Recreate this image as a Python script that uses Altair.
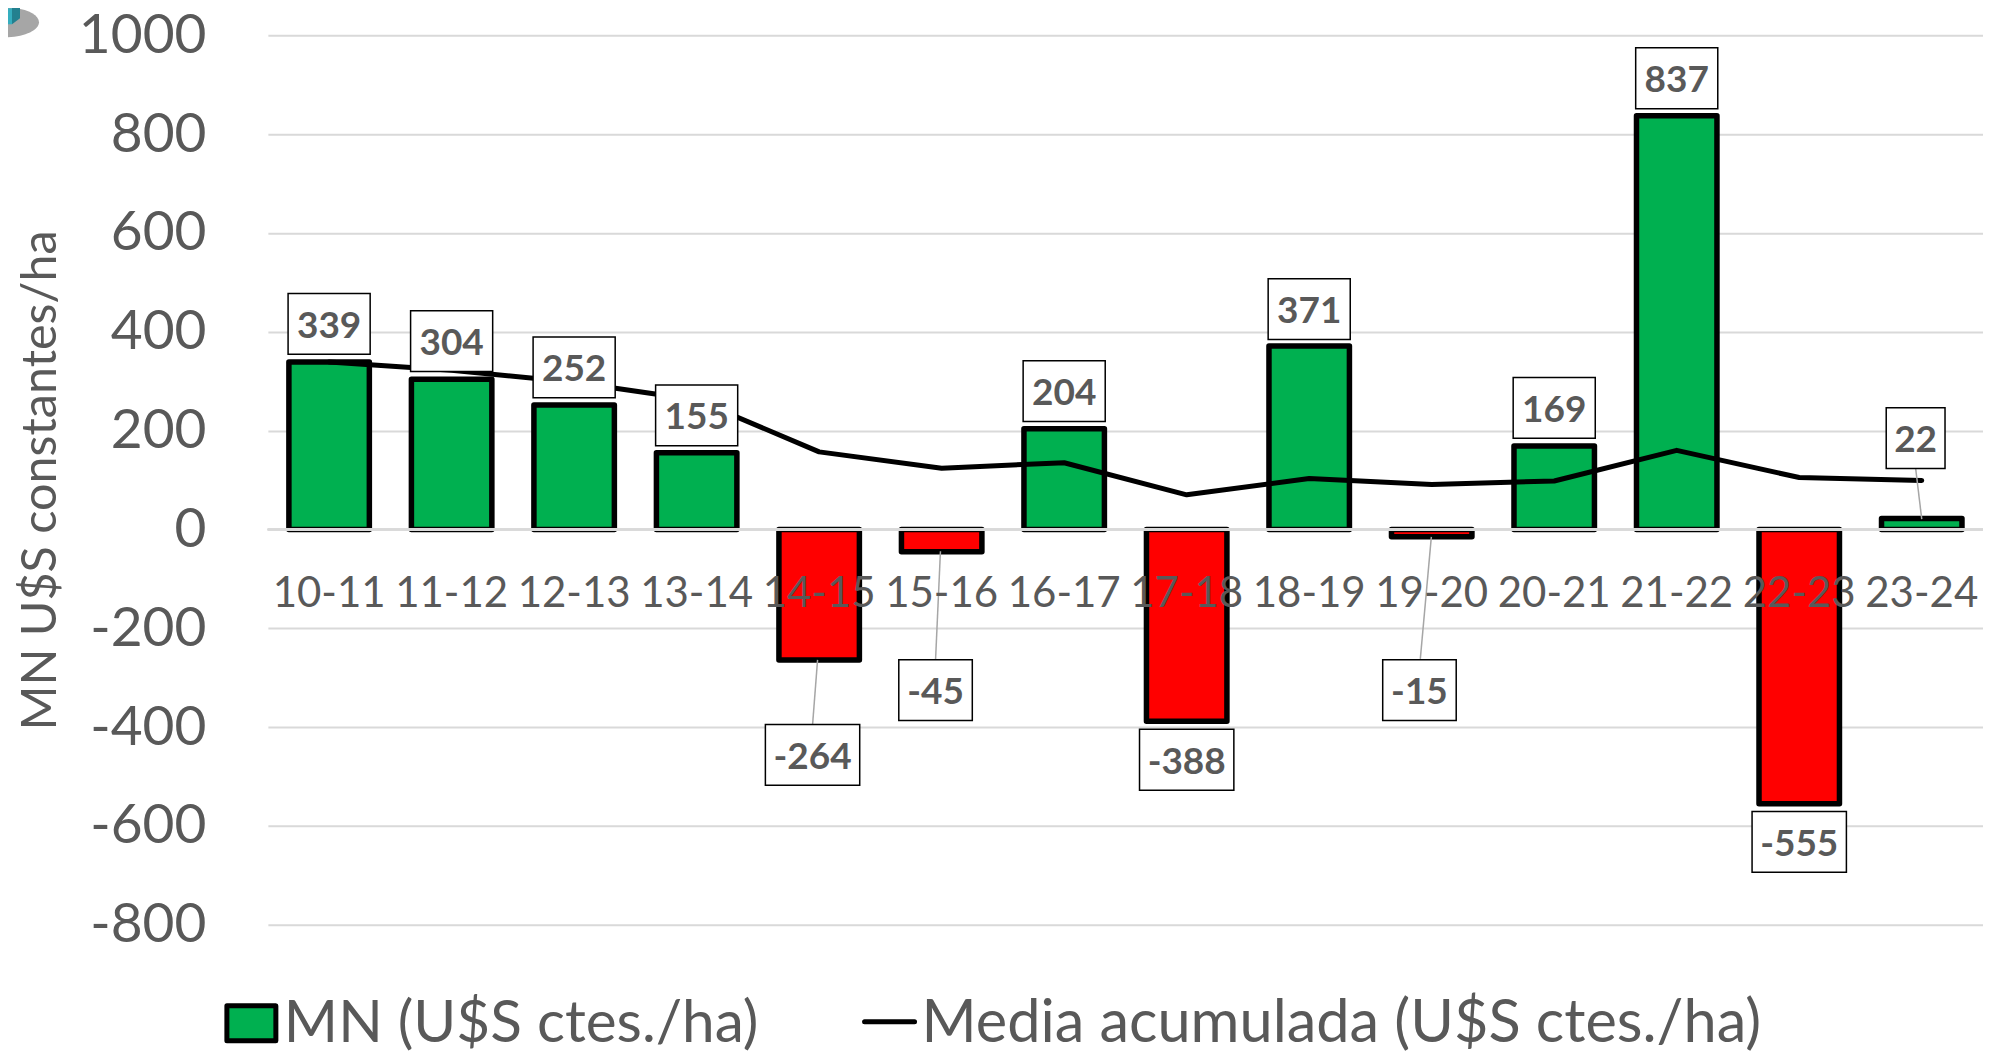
import altair as alt
import pandas as pd

categories = ["10-11","11-12","12-13","13-14","14-15","15-16","16-17","17-18","18-19","19-20","20-21","21-22","22-23","23-24"]
mn_values = [339,304,252,155,-264,-45,204,-388,371,-15,169,837,-555,22]
media_values = [339,322,298,262,157,124,135,70,103,91,98,160,105,99]
y_ticks = [-800,-600,-400,-200,0,200,400,600,800,1000]
legend_labels = ["MN (U$S ctes./ha)", "Media acumulada (U$S ctes./ha)"]
y_title = "MN U$S constantes/ha"

# data-label box layout, in category / value units
box_x = [0,1,2,3,3.946,4.95,6,7,8,8.9,10,11,12,12.95]
box_y = [416,381,328,231,-456,-325,280,-466,446,-325,246,913,-632,185]
box_w = [.67,.67,.67,.67,.77,.6,.67,.77,.67,.6,.67,.67,.77,.48]
box_h = 123
leader_x = [3.987,4.99,8.997,13.0]
leader_x2 = [3.946,4.95,8.907,12.95]
leader_y = [-264,-44,-15,21]
leader_y2 = [-396,-264,-262,124]

FONT = "Lato"
GREY = "#595959"
GREEN = "#00b050"
RED = "#ff0000"

df = pd.DataFrame({"season": categories, "mn": mn_values, "media": media_values,
                   "fill": [GREEN if v >= 0 else RED for v in mn_values]})
boxes = pd.DataFrame({"label": [str(v) for v in mn_values], "x": box_x, "y": box_y, "w": box_w})
boxes["x0"] = boxes.x - boxes.w / 2
boxes["x1"] = boxes.x + boxes.w / 2
boxes["y0"] = boxes.y - box_h / 2
boxes["y1"] = boxes.y + box_h / 2
leaders = pd.DataFrame({"x": leader_x, "x2": leader_x2, "y": leader_y, "y2": leader_y2})
one = pd.DataFrame({"k": [0]})

yscale = alt.Scale(domain=[-800, 1000], nice=False, zero=False)
xscale = alt.Scale(domain=categories, paddingInner=0, paddingOuter=0)
qscale = alt.Scale(domain=[-0.5, 13.5], nice=False, zero=False)
yaxis = alt.Axis(values=y_ticks, labelExpr="toString(datum.value)",
                 labelFontSize=55, labelFont=FONT, labelColor=GREY, labelPadding=62,
                 ticks=False, domain=False, grid=True, gridColor="#d9d9d9", gridWidth=2,
                 titleFont=FONT, titleFontSize=48.5, titleFontWeight="normal",
                 titleColor=GREY, titleX=-202)


def Y(field):
    return alt.Y(field, scale=yscale, title=y_title, axis=yaxis)


x_plain = alt.X("season:N", scale=xscale, axis=None, sort=categories)
x_axis = alt.X("season:N", scale=xscale, sort=categories, title=None,
               axis=alt.Axis(labelAngle=0, labelFontSize=42, labelFont=FONT, labelColor=GREY,
                             labelBaseline="middle", labelPadding=-331, labelOverlap=False,
                             ticks=False, domain=False, grid=False, zindex=1))

bars = alt.Chart(df).mark_bar(width=80.5, stroke="black", strokeWidth=5.5, strokeJoin="round").encode(
    x=x_axis, y=Y("mn:Q"), fill=alt.Fill("fill:N", scale=None))
zero = alt.Chart(df).mark_rule(color="#d9d9d9", strokeWidth=2).encode(y=alt.datum(0, scale=yscale))
line = alt.Chart(df).mark_line(color="black", strokeWidth=5, strokeCap="round", strokeJoin="round").encode(
    x=x_plain, y=Y("media:Q"))
lead = alt.Chart(leaders).mark_rule(color="#a6a6a6", strokeWidth=1.5).encode(
    x=alt.X("x:Q", scale=qscale, axis=None), x2="x2:Q", y=Y("y:Q"), y2="y2:Q")
rects = alt.Chart(boxes).mark_rect(fill="white", stroke="black", strokeWidth=1.5).encode(
    x=alt.X("x0:Q", scale=qscale, axis=None), x2="x1:Q", y=Y("y0:Q"), y2="y1:Q")
texts = alt.Chart(boxes).mark_text(font=FONT, fontSize=37, fontWeight="bold", color=GREY,
                                   baseline="middle", dy=3).encode(
    x=alt.X("x:Q", scale=qscale, axis=None), y=Y("y:Q"), text="label:N")

# legend, built by hand so that the swatch keeps its wide shape
leg_rect = alt.Chart(one).mark_rect(fill=GREEN, stroke="black", strokeWidth=5, strokeJoin="round").encode(
    x=alt.value(-41), x2=alt.value(8), y=alt.value(971), y2=alt.value(1006))
leg_line = alt.Chart(one).mark_rule(color="black", strokeWidth=5, strokeCap="round").encode(
    x=alt.value(597), x2=alt.value(647), y=alt.value(987))
leg_t1 = alt.Chart(pd.DataFrame({"t": [legend_labels[0]]})).mark_text(
    font=FONT, fontSize=58.5, color=GREY, align="left", baseline="middle").encode(
    x=alt.value(16), y=alt.value(989), text="t:N")
leg_t2 = alt.Chart(pd.DataFrame({"t": [legend_labels[1]]})).mark_text(
    font=FONT, fontSize=59.5, color=GREY, align="left", baseline="middle").encode(
    x=alt.value(654), y=alt.value(989), text="t:N")

# stray icon fragment in the top-left corner
shadow = alt.Chart(one).mark_point(filled=True, fill="#a6a6a6", stroke=None, opacity=1, size=4624,
                                   shape="M-1,0A1,.44 0 1,0 1,0A1,.44 0 1,0 -1,0Z").encode(
    x=alt.value(-263), y=alt.value(-13))
cube_side = alt.Chart(one).mark_point(filled=True, fill="#23808f", stroke=None, opacity=1, size=64,
                                      shape="M-1,-3L1,-3L1,1.5L-1,3Z").encode(
    x=alt.value(-252), y=alt.value(-23))
cube_front = alt.Chart(one).mark_rect(fill="#35aebf").encode(
    x=alt.value(-262), x2=alt.value(-256), y=alt.value(-27), y2=alt.value(-11))

chart = alt.layer(
    bars, zero, line, lead, rects, texts, leg_rect, leg_line, leg_t1, leg_t2,
    shadow, cube_side, cube_front
).resolve_scale(x="independent").properties(
    width=1716, height=890,
    autosize=alt.AutoSizeParams(type="none"),
    padding={"left": 260, "top": 27, "right": 0, "bottom": 128},
).configure_view(stroke=None)

chart.save("out.html", embed_options={"renderer": "svg", "actions": False})
